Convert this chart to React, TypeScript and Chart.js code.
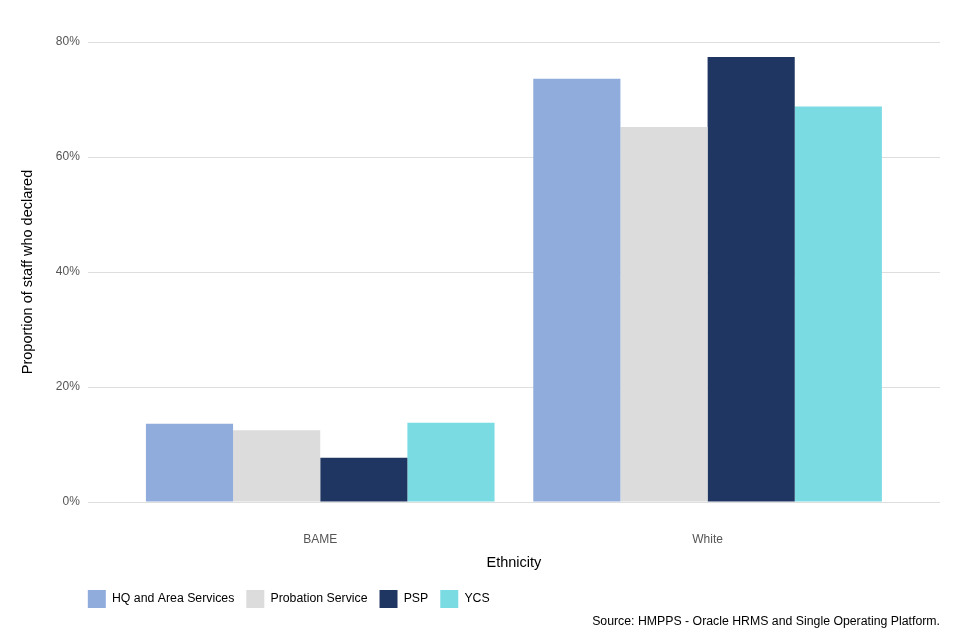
import React, { useEffect, useRef } from "react";
import { Chart, registerables } from "chart.js";

Chart.register(...registerables);

const categories = ["BAME", "White"];
const seriesNames = ["HQ and Area Services", "Probation Service", "PSP", "YCS"];
const hqValues = [13.6, 73.6];
const probationValues = [12.5, 65.2];
const pspValues = [7.7, 77.4];
const ycsValues = [13.8, 68.8];
const seriesColors = ["#8facdc", "#dcdcdc", "#203662", "#7adbe3"];
const yTicks = [0, 20, 40, 60, 80];

const legendShift = {
  id: "legendShift",
  afterLayout(chart: any) {
    const lg = chart.legend;
    if (lg) {
      lg.left -= 12;
      lg.right -= 12;
    }
  },
};

export default function App() {
  const ref = useRef<HTMLCanvasElement | null>(null);

  useEffect(() => {
    if (!ref.current) return;
    const font = "'Liberation Sans', Arial, sans-serif";
    const values = [hqValues, probationValues, pspValues, ycsValues];
    const chart = new Chart(ref.current, {
      type: "bar",
      data: {
        labels: categories,
        datasets: seriesNames.map((name, i) => ({
          label: name,
          data: values[i],
          backgroundColor: seriesColors[i],
          borderWidth: 0,
          categoryPercentage: 0.9,
          barPercentage: 1,
        })),
      },
      plugins: [legendShift],
      options: {
        animation: false,
        responsive: false,
        maintainAspectRatio: false,
        layout: { padding: { top: 42, right: 20, bottom: 10.8, left: 19.7 } },
        plugins: {
          tooltip: { enabled: false },
          legend: {
            position: "bottom",
            align: "start",
            fullSize: false,
            labels: {
              boxWidth: 18,
              boxHeight: 18,
              padding: 12,
              color: "#000",
              font: { family: font, size: 12.3 },
            },
          },
          subtitle: {
            display: true,
            text: "Source: HMPPS - Oracle HRMS and Single Operating Platform.",
            position: "bottom",
            align: "end",
            color: "#000",
            font: { family: font, size: 12.3 },
            padding: { top: -3.56, bottom: 0 },
          },
        },
        scales: {
          x: {
            afterBuildTicks: (axis: any) => {
              // discrete axis expanded by 0.6 category on each side
              axis._startValue = -0.6;
              axis._valueRange = categories.length - 1 + 1.2;
            },
            grid: { display: false },
            border: { display: false },
            ticks: { color: "#555", font: { family: font, size: 12 }, padding: 22.8 },
            title: {
              display: true,
              text: "Ethnicity",
              color: "#000",
              font: { family: font, size: 14.5 },
              padding: { top: -15.7, bottom: 6.3 },
            },
          },
          y: {
            min: 0,
            max: 80,
            afterBuildTicks: (axis: any) => {
              axis.ticks = yTicks.map((v) => ({ value: v }));
            },
            grid: { color: "#dedede", drawTicks: false },
            border: { display: false },
            ticks: {
              color: "#555",
              font: { family: font, size: 12 },
              padding: 8,
              callback: (v: any) => v + "%",
            },
            title: {
              display: true,
              text: "Proportion of staff who declared",
              color: "#000",
              font: { family: font, size: 14.5 },
              padding: { top: 0, bottom: 10.7 },
            },
          },
        },
      },
    });
    return () => chart.destroy();
  }, []);

  return (
    <div style={{ position: "absolute", left: 0, top: 0, width: 960, height: 640, background: "#fff" }}>
      <canvas ref={ref} width={960} height={640} style={{ width: 960, height: 640 }} />
    </div>
  );
}
